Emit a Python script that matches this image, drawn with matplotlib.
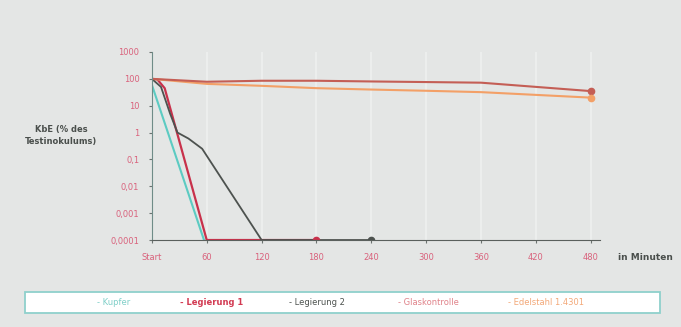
import matplotlib.pyplot as plt
from matplotlib.patches import Rectangle

# values (minutes, KbE in % of test inoculum)
kupfer_t = [0, 57]
kupfer_v = [60, 0.0001]

leg1_t = [0, 6, 14, 60, 180]
leg1_v = [100, 95, 45, 0.0001, 0.0001]

leg2_t = [0, 10, 20, 28, 40, 55, 120, 240]
leg2_v = [100, 50, 5, 1, 0.6, 0.25, 0.0001, 0.0001]

glas_t = [0, 60, 120, 180, 240, 300, 360, 480]
glas_v = [100, 78, 85, 85, 80, 76, 72, 35]

edel_t = [0, 60, 120, 180, 240, 300, 360, 480]
edel_v = [100, 65, 55, 45, 40, 36, 32, 20]

xticks = [0, 60, 120, 180, 240, 300, 360, 420, 480]
xlabels = ["Start", "60", "120", "180", "240", "300", "360", "420", "480"]
yticks = [1e-4, 1e-3, 1e-2, 1e-1, 1, 10, 100, 1000]
ylabels = ["0,0001", "0,001", "0,01", "0,1", "1", "10", "100", "1000"]

names = ["Kupfer", "Legierung 1", "Legierung 2", "Glaskontrolle", "Edelstahl 1.4301"]
colors = ["#5ccbc2", "#c8314b", "#4d524f", "#c45e55", "#f3a067"]
text_colors = ["#7fcfc8", "#d23a52", "#4d524f", "#e0838a", "#f3a878"]

bg = "#e4e6e5"
pink = "#d9627c"

fig = plt.figure(figsize=(6.81, 3.27), dpi=100, facecolor=bg)
ax = fig.add_axes([0.223, 0.266, 0.658, 0.575], facecolor=bg)

for t in xticks[1:]:
    ax.axvline(t, color="#eef0ef", lw=1.2, zorder=0)

ax.plot(kupfer_t, kupfer_v, color=colors[0], lw=1.5)
ax.plot(leg1_t, leg1_v, color=colors[1], lw=1.6)
ax.plot(leg2_t, leg2_v, color=colors[2], lw=1.3)
ax.plot(edel_t, edel_v, color=colors[4], lw=1.5)
ax.plot(glas_t, glas_v, color=colors[3], lw=1.5)

ax.plot(leg1_t[-1], leg1_v[-1], "o", color=colors[1], ms=4.5)
ax.plot(leg2_t[-1], leg2_v[-1], "o", color=colors[2], ms=4.5)
ax.plot(glas_t[-1], glas_v[-1], "o", color=colors[3], ms=4.5)
ax.plot(edel_t[-1], edel_v[-1], "o", color=colors[4], ms=4.5)

ax.set_yscale("log")
ax.set_ylim(1e-4, 1e3)
ax.set_xlim(0, 490)
ax.set_xticks(xticks)
ax.set_xticklabels(xlabels)
ax.set_yticks(yticks)
ax.set_yticklabels(ylabels)
ax.minorticks_off()
ax.tick_params(labelsize=6, colors="#6b7370", labelcolor=pink, length=2, pad=7)

for s in ["top", "right"]:
    ax.spines[s].set_visible(False)
ax.spines["left"].set_color("#6f8c88")
ax.spines["bottom"].set_color("#5a605d")

fig.text(0.09, 0.585, "KbE (% des\nTestinokulums)", ha="center", va="center",
         fontsize=6, color="#4a4f4c", fontweight="bold", linespacing=1.5)
fig.text(0.908, 0.213, "in Minuten", ha="left", va="center",
         fontsize=6.5, color="#4a4f4c", fontweight="bold")

# legend box drawn by hand to match the wide framed strip
fig.add_artist(Rectangle((25 / 681, 1 - 313 / 327), 635 / 681, 21 / 327,
                         transform=fig.transFigure, facecolor="white",
                         edgecolor="#8fd0cc", lw=1.3))
legend_x = [97, 180, 289, 398, 508]
for x, name, c in zip(legend_x, names, text_colors):
    fig.text(x / 681, 1 - 302.5 / 327, "- " + name, ha="left", va="center",
             fontsize=6, color=c,
             fontweight="bold" if name == "Legierung 1" else "normal")

fig.savefig("out.png", dpi=100, facecolor=bg)
